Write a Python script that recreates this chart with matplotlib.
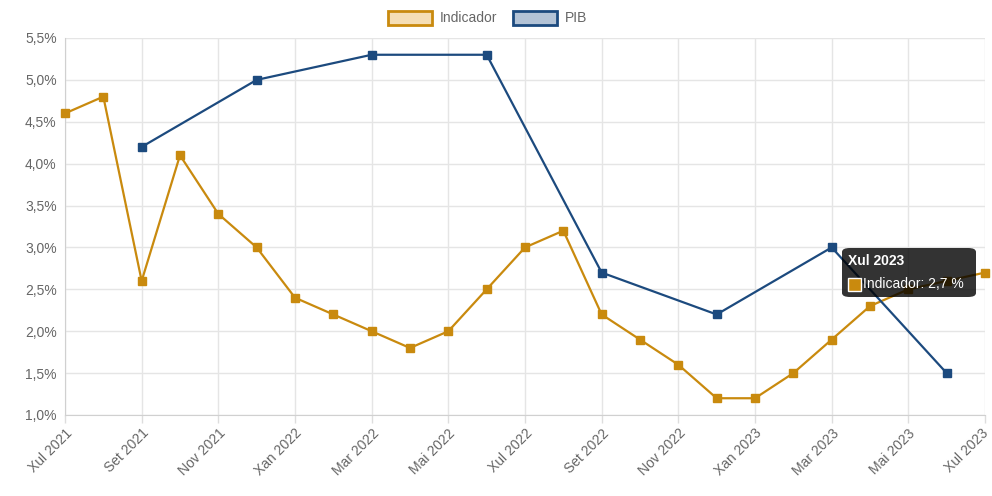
import numpy as np
import matplotlib.pyplot as plt
import matplotlib.transforms as mtransforms
from matplotlib.patches import FancyBboxPatch, Rectangle

plt.rcParams['font.family'] = ['Liberation Sans', 'DejaVu Sans']

# monthly labels from Xul 2021 to Xul 2023
months = ['Xul 2021', 'Ago 2021', 'Set 2021', 'Out 2021', 'Nov 2021', 'Dec 2021',
          'Xan 2022', 'Feb 2022', 'Mar 2022', 'Abr 2022', 'Mai 2022', 'Xuñ 2022',
          'Xul 2022', 'Ago 2022', 'Set 2022', 'Out 2022', 'Nov 2022', 'Dec 2022',
          'Xan 2023', 'Feb 2023', 'Mar 2023', 'Abr 2023', 'Mai 2023', 'Xuñ 2023',
          'Xul 2023']
indicador = [4.6, 4.8, 2.6, 4.1, 3.4, 3.0, 2.4, 2.2, 2.0, 1.8, 2.0, 2.5,
             3.0, 3.2, 2.2, 1.9, 1.6, 1.2, 1.2, 1.5, 1.9, 2.3, 2.5, 2.6, 2.7]
pib_months = ['Set 2021', 'Dec 2021', 'Mar 2022', 'Xuñ 2022',
              'Set 2022', 'Dec 2022', 'Mar 2023', 'Xuñ 2023']
pib = [4.2, 5.0, 5.3, 5.3, 2.7, 2.2, 3.0, 1.5]

c_ind = '#C98A0E'
c_pib = '#1C4A7E'
grey = '#666666'

fig = plt.figure(figsize=(9.92, 4.96), dpi=100)
ax = fig.add_axes([65 / 992, 1 - 415 / 496, 920 / 992, 377 / 496])

x_ind = np.arange(len(months))
x_pib = [months.index(m) for m in pib_months]

ax.plot(x_ind, indicador, color=c_ind, lw=1.6, marker='s', ms=6,
        markerfacecolor=c_ind, markeredgecolor=c_ind, zorder=3, clip_on=False)
ax.plot(x_pib, pib, color=c_pib, lw=1.6, marker='s', ms=6,
        markerfacecolor=c_pib, markeredgecolor=c_pib, zorder=3, clip_on=False)

ax.set_xlim(0, len(months) - 1)
ax.set_ylim(1.0, 5.5)
ax.set_xticks(x_ind[::2])
ax.set_xticklabels(months[::2], rotation=45, ha='right', va='top', rotation_mode='anchor',
                   color=grey, fontsize=10)
yt = np.arange(1.0, 5.51, 0.5)
ax.set_yticks(yt)
ax.set_yticklabels([f'{v:.1f}%'.replace('.', ',') for v in yt], color=grey, fontsize=10)
ax.tick_params(axis='y', length=0, pad=6)
ax.tick_params(axis='x', length=6, width=1, color='#dddddd', pad=2)
ax.grid(True, color='#e5e5e5', lw=1)
ax.set_axisbelow(True)
for s in ['top', 'right']:
    ax.spines[s].set_visible(False)
for s in ['left', 'bottom']:
    ax.spines[s].set_color('#d0d0d0')

# nudge the last label so it stays inside the figure
last = ax.get_xticklabels()[-1]
last.set_transform(last.get_transform() + mtransforms.ScaledTranslation(-4 / 100, 0, fig.dpi_scale_trans))

# legend drawn as boxes in figure pixels
def px(x, y):
    return x / 992, 1 - y / 496

for bx, label, fc, ec in [(388, 'Indicador', '#F5DEB5', c_ind), (513, 'PIB', '#B3C3D6', c_pib)]:
    fig.patches.append(Rectangle(px(bx, 25), 44 / 992, 14 / 496, transform=fig.transFigure,
                                 facecolor=fc, edgecolor=ec, lw=2))
    fig.text(*px(bx + 52, 18), label, color=grey, fontsize=10, va='center', ha='left')

# tooltip
tx, ty = px(842, 297)
fig.patches.append(FancyBboxPatch((tx, ty), 134 / 992, 49 / 496, transform=fig.transFigure,
                                  boxstyle='round,pad=0,rounding_size=0.008',
                                  facecolor='black', alpha=0.8, edgecolor='none', zorder=10))
fig.text(*px(848, 261), 'Xul 2023', color='white', fontweight='bold', fontsize=10,
         va='center', ha='left', zorder=11)
fig.patches.append(Rectangle(px(848, 291), 13 / 992, 13 / 496, transform=fig.transFigure,
                             facecolor=c_ind, edgecolor='white', lw=1, zorder=11))
fig.text(*px(863, 284), 'Indicador: 2,7 %', color='white', fontsize=10,
         va='center', ha='left', zorder=11)

fig.savefig('out.png', dpi=100)
